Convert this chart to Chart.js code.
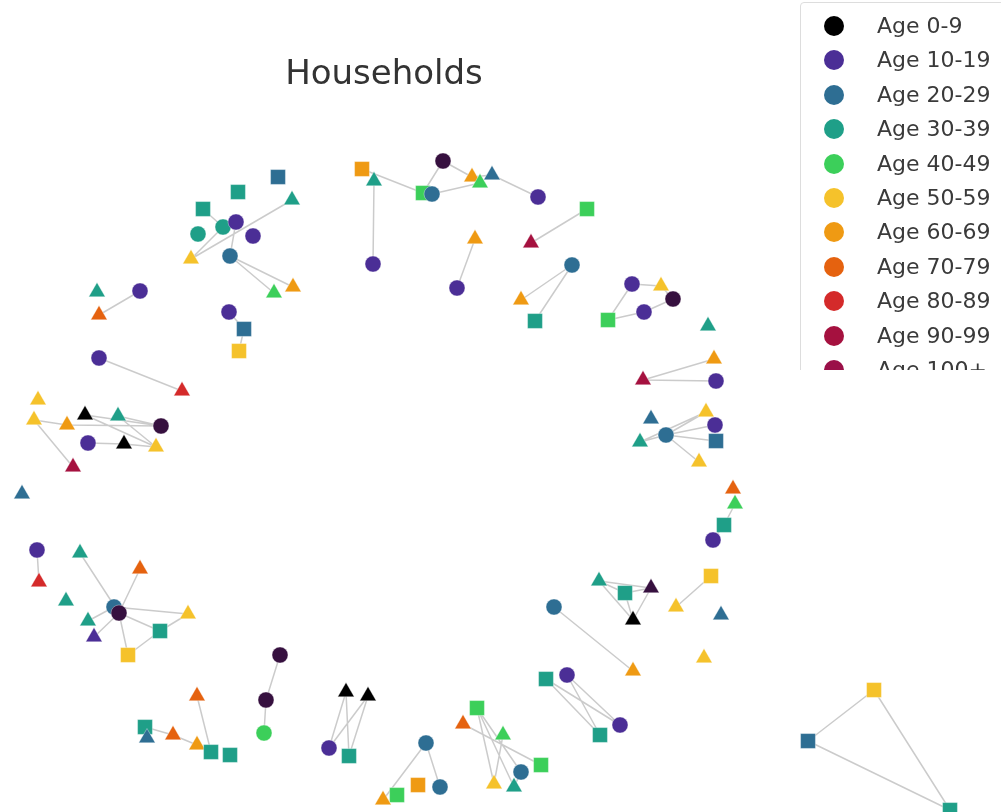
<!DOCTYPE html>
<html>
<head>
<meta charset="utf-8">
<script src="https://cdn.jsdelivr.net/npm/chart.js@4"></script>
<style>
  body { margin: 0; background: #fff; font-family: "DejaVu Sans", sans-serif; }
  #wrap { position: relative; width: 1001px; height: 812px; overflow: hidden; }
  #title { position: absolute; left: 234px; width: 300px; top: 52px; text-align: center;
           font-size: 34px; color: #333; }
  #legendClip { position: absolute; left: 800px; top: 2px; width: 210px; height: 368px; overflow: hidden; }
  #legend { position: absolute; left: 0; top: 0; width: 220px; height: 420px; border: 1px solid #ddd;
            border-radius: 4px; background: rgba(255,255,255,0.85); }
  .item { position: absolute; left: 0; height: 30px; line-height: 30px; font-size: 22px; color: #3a3a3a; }
  .dot { position: absolute; left: 23px; top: 5px; width: 20px; height: 20px; border-radius: 50%; }
  .lab { position: absolute; left: 76px; top: 0; white-space: nowrap; }
</style>
</head>
<body>
<div id="wrap">
  <canvas id="myChart" width="1001" height="812"></canvas>
  <div id="title">Households</div>
  <div id="legendClip"><div id="legend"></div></div>
</div>
<script>
// age groups shown in legend
var ageLabels = ["Age 0-9", "Age 10-19", "Age 20-29", "Age 30-39", "Age 40-49", "Age 50-59",
                 "Age 60-69", "Age 70-79", "Age 80-89", "Age 90-99", "Age 100+"];
// last colour is the very dark purple of some nodes
var ageColors = ["#000000", "#4b2e96", "#2e6e93", "#1f9f88", "#3ccf5a", "#f5c22b",
                 "#ef9a13", "#e5620f", "#d42a2a", "#a5113f", "#9a1048", "#36103f"];

// node positions (layout coordinates), shape and age group
var nodeX = [278,238,292,203,223,236,198,253,191,230,293,274,97,140,99,229,244,239,99,182,
             38,34,67,85,118,161,88,124,156,73,22,
             362,374,443,423,432,472,492,480,538,587,475,531,373,457,572,521,535,632,661,673,644,608,708,
             714,643,716,706,651,715,666,640,716,699,733,735,724,713,
             599,625,651,633,554,633,711,676,721,704,546,567,620,600,
             346,368,329,349,426,397,383,418,440,477,463,503,541,521,494,514,
             37,39,80,140,66,114,119,188,88,94,160,128,280,266,264,197,145,147,173,197,211,230,
             874,808,950];
var nodeY = [177,192,200,209,227,222,234,236,259,256,287,293,292,291,315,312,329,351,358,391,
             400,420,425,415,416,426,443,444,447,467,494,
             169,181,161,193,194,177,175,183,197,209,239,243,264,288,265,300,321,284,286,299,312,320,326,
             359,380,381,412,419,425,435,442,441,462,489,504,525,540,
             581,593,588,620,607,671,576,607,615,658,679,675,725,735,
             692,696,748,756,743,795,800,785,787,708,724,735,765,772,784,787,
             550,582,553,569,601,607,613,614,621,637,631,655,655,700,733,696,727,738,735,745,752,755,
             690,741,810];
var nodeShape = ["s","s","t","s","c","c","c","c","t","c","t","t","t","c","t","c","s","s","c","t",
                 "t","t","t","t","t","c","c","t","t","t","t",
                 "s","t","c","s","c","t","t","t","c","s","t","t","c","c","c","t","s","c","t","c","c","s","t",
                 "t","t","c","t","t","c","c","t","s","t","t","t","s","c",
                 "t","s","t","t","c","t","s","t","t","t","s","c","c","s",
                 "t","t","c","s","c","s","t","s","c","s","t","t","s","c","t","t",
                 "c","t","t","t","t","c","c","t","t","t","s","s","c","c","c","t","s","t","t","t","s","s",
                 "s","s","s"];
var nodeAge = [2,3,3,3,3,1,3,1,5,2,6,4,3,1,7,1,2,5,1,8,
               5,5,6,0,3,11,1,0,5,9,2,
               6,3,11,4,2,6,2,4,1,4,6,9,1,1,2,6,3,1,5,11,1,4,3,
               6,9,1,5,2,1,2,3,2,5,7,4,3,1,
               3,3,11,0,2,6,5,5,2,5,3,1,1,3,
               0,0,1,3,2,4,6,6,2,4,7,4,4,2,5,3,
               1,8,3,7,3,2,11,5,3,1,3,5,11,11,4,7,3,2,7,6,3,3,
               5,2,3];

// household links (node index pairs)
var edgeFrom = [2,3,4,9,9,5,13,15,16,18,21,21,23,24,23,24,26,27,22,
                32,31,33,33,35,37,36,40,41,45,45,48,48,52,51,49,
                55,55,61,60,60,60,60,61,65,66,
                68,69,68,69,70,68,72,74,78,78,79,79,
                82,82,83,83,86,86,91,91,91,92,93,95,
                98,100,101,103,104,104,108,109,106,107,110,111,113,114,116,117,
                120,120,121];
var edgeTo   = [8,4,8,10,11,9,14,16,17,19,22,29,25,25,28,28,27,28,25,
                43,34,34,36,38,39,37,42,44,46,47,49,52,51,50,50,
                54,56,60,57,59,62,63,57,66,67,
                69,70,71,71,71,70,73,75,80,81,80,81,
                84,85,84,85,88,90,96,97,95,94,96,97,
                99,104,104,105,108,109,105,108,103,104,111,112,118,116,117,118,
                121,122,122];

var shapeStyle = { c: "circle", s: "rect", t: "triangle" };
var shapeRadius = { c: 8, s: 10.5, t: 9.5 };

var nodePoints = [], nodeStyles = [], nodeRadii = [], nodeFill = [];
for (var i = 0; i < nodeX.length; i++) {
    nodePoints.push({ x: nodeX[i], y: nodeY[i] });
    nodeStyles.push(shapeStyle[nodeShape[i]]);
    nodeRadii.push(shapeRadius[nodeShape[i]]);
    nodeFill.push(ageColors[nodeAge[i]]);
}
// edges as one line with gaps between segments
var edgePoints = [];
for (var k = 0; k < edgeFrom.length; k++) {
    edgePoints.push({ x: nodeX[edgeFrom[k]], y: nodeY[edgeFrom[k]] });
    edgePoints.push({ x: nodeX[edgeTo[k]], y: nodeY[edgeTo[k]] });
    edgePoints.push({ x: nodeX[edgeTo[k]], y: null });
}

var ctx = document.getElementById("myChart").getContext("2d");
var myChart = new Chart(ctx, {
    type: "scatter",
    data: {
        datasets: [{
            label: "nodes",
            data: nodePoints,
            pointStyle: nodeStyles,
            pointRadius: nodeRadii,
            pointBackgroundColor: nodeFill,
            pointBorderColor: "rgba(255,255,255,0.6)",
            pointBorderWidth: 0.6,
            order: 0,
            clip: false
        }, {
            label: "edges",
            data: edgePoints,
            showLine: true,
            spanGaps: false,
            borderColor: "rgba(190,190,190,0.8)",
            borderWidth: 1.5,
            pointRadius: 0,
            order: 1
        }]
    },
    options: {
        responsive: false,
        animation: false,
        layout: { padding: 0, autoPadding: false },
        plugins: { legend: { display: false }, tooltip: { enabled: false } },
        scales: {
            x: { type: "linear", min: 0, max: 1001, display: false },
            y: { type: "linear", min: 0, max: 812, reverse: true, display: false }
        }
    }
});

// legend
var legend = document.getElementById("legend");
for (var j = 0; j < ageLabels.length; j++) {
    var item = document.createElement("div");
    item.className = "item";
    item.style.top = (8 + j * 34.4) + "px";
    item.innerHTML = '<span class="dot" style="background:' + ageColors[j] + '"></span>' +
                     '<span class="lab">' + ageLabels[j] + '</span>';
    legend.appendChild(item);
}
</script>
</body>
</html>
